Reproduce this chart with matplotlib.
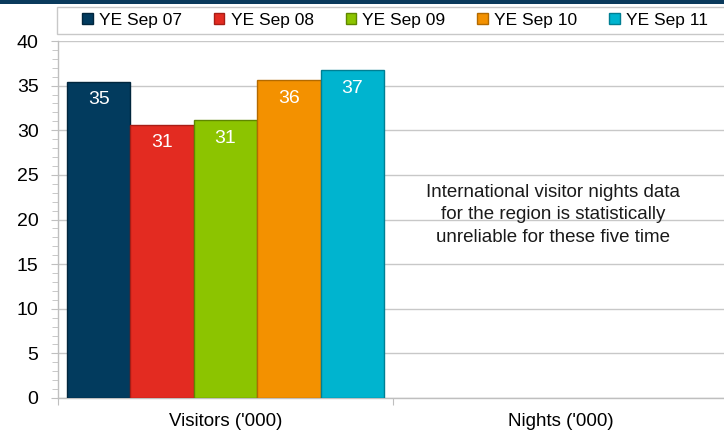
import matplotlib
matplotlib.use("Agg")
import matplotlib.pyplot as plt
from matplotlib.patches import Rectangle
import numpy as np

categories = ["Visitors ('000)", "Nights ('000)"]
series_names = ["YE Sep 07", "YE Sep 08", "YE Sep 09", "YE Sep 10", "YE Sep 11"]
visitors = [35.4, 30.6, 31.1, 35.6, 36.7]
value_labels = ["35", "31", "31", "36", "37"]
colors = ["#023B5E", "#E32B21", "#8CC400", "#F39100", "#00B4CF"]
edge_colors = ["#01263D", "#A81D16", "#5F8700", "#B36A00", "#007F93"]
yticks = [0, 5, 10, 15, 20, 25, 30, 35, 40]
note = "International visitor nights data\nfor the region is statistically\nunreliable for these five time"

regular = ['Liberation Sans', 'DejaVu Sans']

W, H = 724, 432
fig = plt.figure(figsize=(W / 100, H / 100), dpi=100)
ax = fig.add_axes([58 / W, 34 / H, 670 / W, 357 / H])

bw = 0.1893
handles = []
for i, (v, c, ec) in enumerate(zip(visitors, colors, edge_colors)):
    x = 0 + (i - 2) * bw
    b = ax.bar(x, v, width=bw, color=c, edgecolor=ec, linewidth=1.0, zorder=3,
               label=series_names[i])
    handles.append(b)
    ax.text(x, v - 2.0, value_labels[i], ha='center', va='center', color='white',
            fontsize=14, family=regular, zorder=4)

ax.set_xlim(-0.5, 1.5)
ax.set_ylim(0, 40)
ax.set_yticks(yticks)
ax.set_yticklabels([str(t) for t in yticks], family=regular, fontsize=14)
ax.set_yticks(np.arange(0, 41, 1), minor=True)
ax.tick_params(axis='y', which='major', length=5, color='#BFBFBF', pad=9)
ax.tick_params(axis='y', which='minor', length=4, color='#BFBFBF')
ax.yaxis.grid(True, which='major', color='#C8C8C8', linewidth=1.0, zorder=0)
ax.set_axisbelow(True)

ax.set_xticks([-0.5, 0.5, 1.5])
ax.set_xticklabels(['', '', ''])
ax.set_xticks([0, 1], minor=True)
ax.set_xticklabels(categories, minor=True, family=regular, fontsize=13.5)
ax.tick_params(axis='x', which='major', length=5, color='#BFBFBF')
ax.tick_params(axis='x', which='minor', length=0, pad=11)

for s in ['top', 'right']:
    ax.spines[s].set_visible(False)
for s in ['left', 'bottom']:
    ax.spines[s].set_color('#BFBFBF')
    ax.spines[s].set_linewidth(1.0)

ax.text(553 / W, 1 - 215 / H, note, transform=fig.transFigure, ha='center', va='center',
        fontsize=13.5, family=regular, linespacing=1.45, color='#1a1a1a')

# top band
fig.patches.append(Rectangle((0, 1 - 4 / H), 1, 4 / H, transform=fig.transFigure,
                             facecolor='#0A3A5C', edgecolor='none'))
# legend box
fig.patches.append(Rectangle((57 / W, 1 - 34 / H), 680 / W, 27 / H, transform=fig.transFigure,
                             facecolor='white', edgecolor='#C8C8C8', linewidth=1.0))

leg = fig.legend(handles=handles, loc='center', bbox_to_anchor=(395 / W, 1 - 20.5 / H),
                 ncol=5, frameon=False, prop={'family': regular, 'size': 12.5},
                 handlelength=0.6, handleheight=0.6, handletextpad=0.35,
                 columnspacing=1.85, borderpad=0.2)

fig.savefig("out.png", dpi=100)
